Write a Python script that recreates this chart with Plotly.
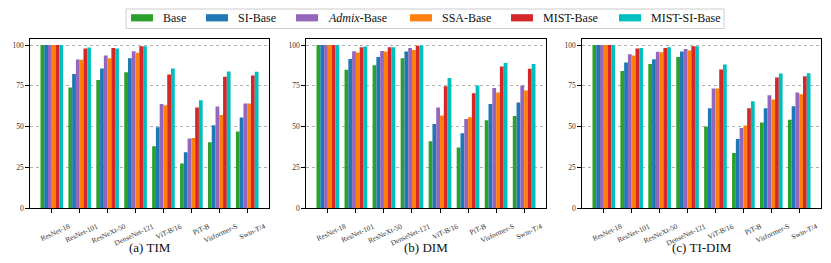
import plotly.graph_objects as go

models = ["ResNet-18", "ResNet-101", "ResNeXt-50", "DenseNet-121",
          "ViT-B/16", "PiT-B", "Visformer-S", "Swin-T/4"]
series_names = ["Base", "SI-Base", "<i>Admix</i>-Base", "SSA-Base", "MIST-Base", "MIST-SI-Base"]
colors = ["#2ca02c", "#1f77b4", "#9467bd", "#ff7f0e", "#d62728", "#00bfbf"]

# TIM
tim_base    = [100, 74.0, 78.6, 83.3, 38.0, 27.4, 40.4, 47.0]
tim_si      = [100, 82.3, 85.6, 91.9, 49.6, 34.3, 50.9, 55.6]
tim_admix   = [100, 91.1, 93.6, 96.2, 63.9, 42.7, 62.3, 64.2]
tim_ssa     = [100, 90.9, 91.9, 95.2, 63.1, 43.1, 57.2, 64.2]
tim_mist    = [100, 97.9, 98.2, 99.3, 81.9, 61.7, 80.5, 81.3]
tim_mist_si = [100, 98.5, 97.9, 99.3, 85.6, 66.2, 83.8, 83.6]

# DIM
dim_base    = [100, 84.8, 87.6, 91.9, 41.1, 37.2, 53.9, 56.6]
dim_si      = [100, 91.5, 92.7, 96.0, 51.7, 46.0, 63.9, 64.8]
dim_admix   = [100, 96.2, 96.4, 98.2, 61.7, 54.7, 73.7, 75.2]
dim_ssa     = [100, 95.4, 96.0, 97.0, 56.8, 55.8, 70.9, 72.1]
dim_mist    = [100, 98.7, 98.7, 99.5, 74.8, 70.5, 86.8, 85.4]
dim_mist_si = [100, 99.1, 98.7, 99.7, 79.8, 75.2, 89.0, 88.4]

# TI-DIM
tidim_base    = [100, 84.1, 88.4, 92.7, 50.1, 33.9, 52.5, 54.3]
tidim_si      = [100, 89.3, 91.3, 96.0, 61.3, 42.5, 61.3, 62.5]
tidim_admix   = [100, 94.4, 95.8, 97.6, 73.3, 49.2, 69.2, 70.9]
tidim_ssa     = [100, 93.6, 95.6, 96.6, 73.3, 50.7, 66.6, 69.9]
tidim_mist    = [100, 97.9, 98.2, 99.3, 85.0, 61.3, 80.1, 80.9]
tidim_mist_si = [100, 98.2, 98.7, 99.3, 88.0, 65.6, 82.5, 82.7]

panels = [
    ("(a) TIM", [tim_base, tim_si, tim_admix, tim_ssa, tim_mist, tim_mist_si]),
    ("(b) DIM", [dim_base, dim_si, dim_admix, dim_ssa, dim_mist, dim_mist_si]),
    ("(c) TI-DIM", [tidim_base, tidim_si, tidim_admix, tidim_ssa, tidim_mist, tidim_mist_si]),
]
y_ticks = [0, 25, 50, 75, 100]

# ---- layout constants (pixels) ----
W, H = 831, 263
x_domains_px = [(30, 269), (306, 546), (582, 821)]
y_top_px, y_bot_px = 39.3, 208.3
ydom = [1 - y_bot_px / H, 1 - y_top_px / H]
legend_box_px = (126, 9, 724, 28.5)
legend_patch_left_px = [131, 206, 296, 410, 511, 619]
patch_w, patch_y0, patch_y1 = 22, 14.2, 21.4
text_offset = 30.5

def px(x):
    return x / W

def py(y):
    return 1 - y / H

FONT = "Liberation Serif"
fig = go.Figure()

for i, (title, series) in enumerate(panels):
    ax = "" if i == 0 else str(i + 1)
    for j, vals in enumerate(series):
        fig.add_trace(go.Bar(
            x=models, y=vals, name=series_names[j],
            marker=dict(color=colors[j], line=dict(width=0)),
            xaxis="x" + ax, yaxis="y" + ax,
            showlegend=False,
        ))
    x0, x1 = x_domains_px[i]
    xa = dict(
        domain=[px(x0), px(x1)], anchor="y" + ax,
        type="category", range=[-0.78, 7.78],
        showline=True, linecolor="black", linewidth=1.3, mirror=True,
        ticks="outside", ticklen=4, tickwidth=1, tickcolor="black",
        tickangle=-25, tickfont=dict(family=FONT, size=7.3, color="#333"),
        ticklabelshift=17, ticklabelstandoff=6,
        showgrid=False, zeroline=False, automargin=False,
    )
    ya = dict(
        domain=ydom, anchor="x" + ax, range=[0, 103.5],
        tickvals=y_ticks, ticktext=[str(t) for t in y_ticks],
        showline=True, linecolor="black", linewidth=1.3, mirror=True,
        ticks="outside", ticklen=3.5, tickwidth=0.8, tickcolor="black",
        tickfont=dict(family=FONT, size=7.5, color="#333"),
        showgrid=True, gridcolor="#b0b0b0", gridwidth=1, griddash="dot",
        zeroline=False, automargin=False,
    )
    fig.layout["xaxis" + ax] = xa
    fig.layout["yaxis" + ax] = ya
    fig.add_annotation(
        text=title, xref="paper", yref="paper",
        x=px((x0 + x1) / 2), y=py(247), xanchor="center", yanchor="middle",
        showarrow=False, font=dict(family=FONT, size=13, color="#111"),
    )

# ---- legend (drawn box, patches and labels) ----
bx0, by0, bx1, by1 = legend_box_px
fig.add_shape(type="rect", xref="paper", yref="paper",
              x0=px(bx0), x1=px(bx1), y0=py(by1), y1=py(by0),
              line=dict(color="#cccccc", width=1), fillcolor="white")
for j, name in enumerate(series_names):
    lx = legend_patch_left_px[j]
    fig.add_shape(type="rect", xref="paper", yref="paper",
                  x0=px(lx), x1=px(lx + patch_w), y0=py(patch_y1), y1=py(patch_y0),
                  line=dict(width=0), fillcolor=colors[j])
    fig.add_annotation(
        text=name, xref="paper", yref="paper",
        x=px(lx + text_offset - 1), y=py((patch_y0 + patch_y1) / 2),
        xanchor="left", yanchor="middle", showarrow=False,
        font=dict(family=FONT, size=12, color="#111"),
    )

fig.update_layout(
    width=W, height=H,
    margin=dict(l=0, r=0, t=0, b=0, autoexpand=False),
    paper_bgcolor="white", plot_bgcolor="white",
    barmode="group", bargap=0.19, bargroupgap=0,
    showlegend=False,
)

fig.write_html("out.html",
               config={"displayModeBar": False},
               post_script="document.body.style.margin='0';document.body.style.overflow='hidden';")
